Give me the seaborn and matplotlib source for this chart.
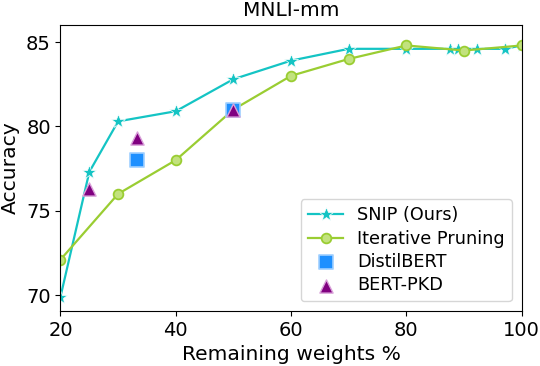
import seaborn as sns
import matplotlib.pyplot as plt
import pandas as pd

# values
snip_x = [20, 25, 30, 40, 50, 60, 70, 80, 87.5, 88.9, 92.3, 97.1, 100]
snip_y = [69.9, 77.3, 80.3, 80.9, 82.8, 83.9, 84.6, 84.6, 84.6, 84.6, 84.6, 84.6, 84.8]

iter_x = [20, 30, 40, 50, 60, 70, 80, 90, 100]
iter_y = [72.1, 76.0, 78.0, 81.0, 83.0, 84.0, 84.8, 84.5, 84.8]

distil_x = [33.3, 50]
distil_y = [78.0, 81.0]

pkd_x = [25, 33.3, 50]
pkd_y = [76.3, 79.3, 81.0]

snip = pd.DataFrame({'w': snip_x, 'acc': snip_y})
itp = pd.DataFrame({'w': iter_x, 'acc': iter_y})

fig, ax = plt.subplots(figsize=(5.4, 3.66), dpi=100)

sns.lineplot(x='w', y='acc', data=snip, ax=ax, color='#14c4c4', marker='*',
             markersize=10, linewidth=1.6, markeredgewidth=0.5, label='SNIP (Ours)')
sns.lineplot(x='w', y='acc', data=itp, ax=ax, color='#9acd32', marker='o',
             markersize=7, linewidth=1.6, markerfacecolor='#c2e27e',
             markeredgecolor='#9acd32', markeredgewidth=1.3, label='Iterative Pruning')
sns.scatterplot(x=distil_x, y=distil_y, ax=ax, marker='s', s=90, color='#1e90ff',
                edgecolor='#9fcfff', linewidth=1.2, label='DistilBERT', zorder=4)
sns.scatterplot(x=pkd_x, y=pkd_y, ax=ax, marker='^', s=90, color='#800080',
                edgecolor='#d9a0d9', linewidth=1.0, label='BERT-PKD', zorder=5)

ax.set_xlim(20, 100)
ax.set_ylim(69.05, 86.03)
ax.set_xticks([20, 40, 60, 80, 100])
ax.set_yticks([70, 75, 80, 85])
ax.tick_params(labelsize=14)
ax.set_xlabel('Remaining weights %', fontsize=14.6)
ax.set_ylabel('Accuracy', fontsize=14.6)
ax.set_title('MNLI-mm', fontsize=14.5)
ax.legend(loc='lower right', fontsize=12.7, labelspacing=0.3, borderaxespad=0.55)

fig.subplots_adjust(left=0.112, right=0.966, top=0.9325, bottom=0.150)
fig.savefig('out.png', dpi=100)
